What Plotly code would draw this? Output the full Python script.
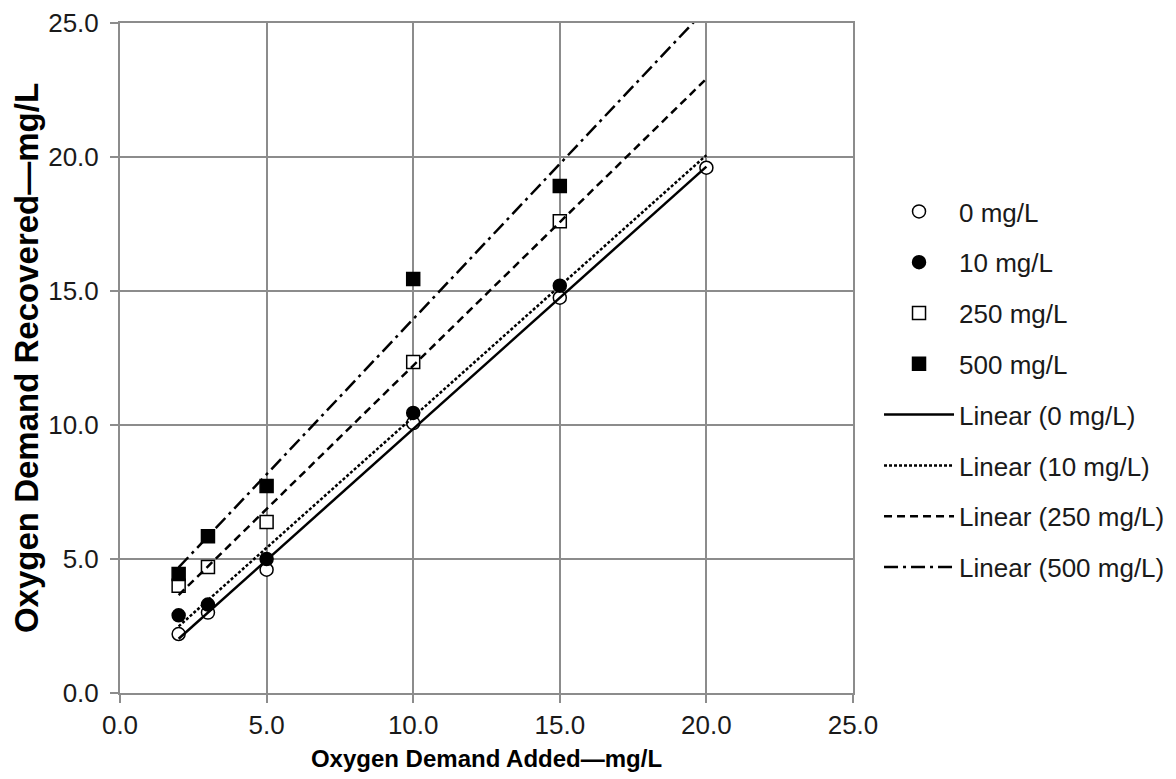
import numpy as np
import plotly.graph_objects as go

# Data
added_0 = [2, 3, 5, 10, 15, 20]
recovered_0 = [2.2, 3.0, 4.6, 10.07, 14.75, 19.6]

added_10 = [2, 3, 5, 10, 15]
recovered_10 = [2.9, 3.3, 5.0, 10.45, 15.2]

added_250 = [2, 3, 5, 10, 15]
recovered_250 = [4.0, 4.7, 6.38, 12.35, 17.6]

added_500 = [2, 3, 5, 10, 15]
recovered_500 = [4.44, 5.85, 7.72, 15.45, 18.92]

series_names = ["0 mg/L", "10 mg/L", "250 mg/L", "500 mg/L"]
trend_x_range = [2, 20]
axis_ticks = [0, 5, 10, 15, 20, 25]

series = [
    (added_0, recovered_0, "circle", "white"),
    (added_10, recovered_10, "circle", "black"),
    (added_250, recovered_250, "square", "white"),
    (added_500, recovered_500, "square", "black"),
]
dashes = ["solid", "3px,2px", "8px,5px", "14px,5px,3px,5px"]

fig = go.Figure()
for i, (xs, ys, sym, fill) in enumerate(series):
    fig.add_trace(go.Scatter(
        x=xs, y=ys, mode="markers", name=series_names[i],
        legendgroup=f"m{i}",
        marker=dict(symbol=sym, size=13, color=fill,
                    line=dict(color="black", width=1.5)),
        cliponaxis=False,
    ))

for i, (xs, ys, sym, fill) in enumerate(series):
    slope, inter = np.polyfit(xs, ys, 1)
    tx = np.array(trend_x_range, dtype=float)
    ty = slope * tx + inter
    fig.add_trace(go.Scatter(
        x=tx, y=ty, mode="lines", name=f"Linear ({series_names[i]})",
        legendgroup=f"l{i}",
        line=dict(color="black", width=2.5, dash=dashes[i]),
    ))

tick_font = dict(family="Liberation Sans, Arial, sans-serif", size=26, color="#1a1a1a")

axis_common = dict(
    range=[0, 25], tickvals=axis_ticks,
    ticktext=[f"{v:.1f}" for v in axis_ticks],
    showgrid=True, gridcolor="#8c8c8c", gridwidth=2,
    showline=True, linecolor="#8c8c8c", linewidth=2, mirror=True,
    zeroline=False, ticks="outside", ticklen=8, tickcolor="#8c8c8c", tickwidth=2,
    tickfont=tick_font,
)

fig.update_layout(
    width=1168, height=771,
    paper_bgcolor="white", plot_bgcolor="white",
    margin=dict(l=112, r=323, t=15, b=86, autoexpand=False),
    font=dict(family="Liberation Sans, Arial, sans-serif", color="#1a1a1a", size=26),
    xaxis=dict(**axis_common,
               title=dict(text="<b>Oxygen Demand Added—mg/L</b>",
                          font=dict(family="Liberation Sans, Arial, sans-serif",
                                    size=24, color="black"),
                          standoff=11)),
    yaxis=dict(**axis_common,
               ticklabelstandoff=6,
               title=dict(text="<b>Oxygen Demand Recovered—mg/L</b>",
                          font=dict(family="Liberation Sans, Arial, sans-serif",
                                    size=33, color="black"),
                          standoff=6)),
    legend=dict(x=1.0355, y=0.453, xanchor="left", yanchor="middle",
                traceorder="grouped", tracegroupgap=14, itemwidth=70,
                font=dict(size=26), bgcolor="rgba(0,0,0,0)"),
    showlegend=True,
)

fig.write_html("out.html")
